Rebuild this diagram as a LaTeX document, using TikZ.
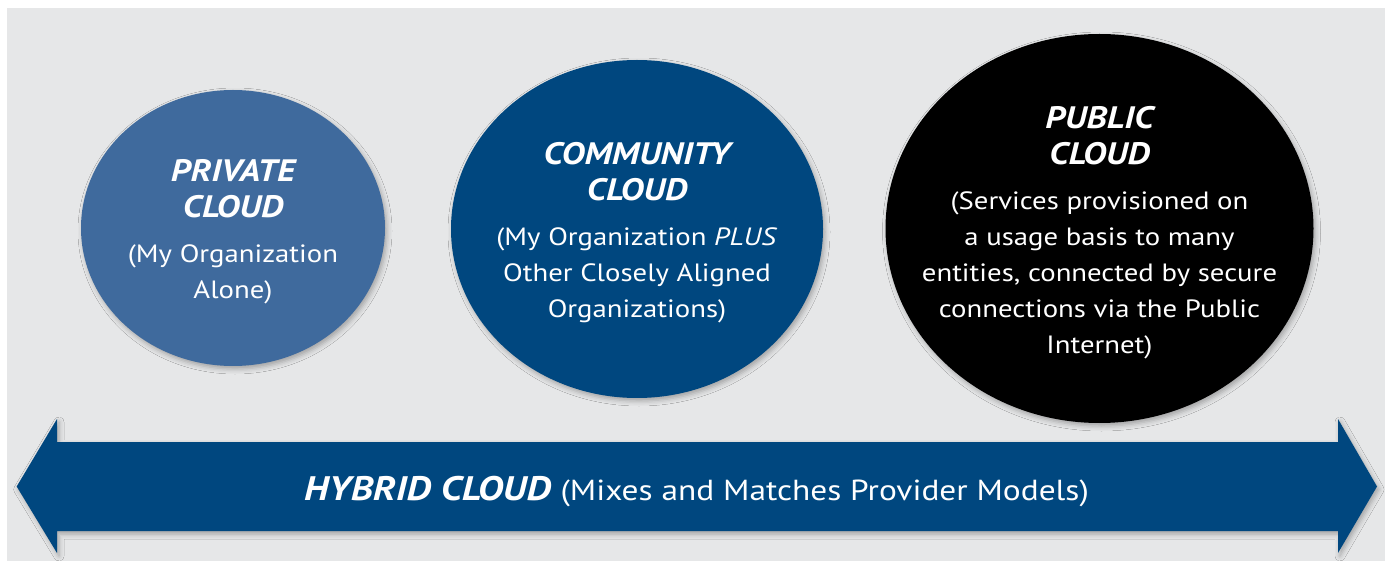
\documentclass[tikz,border=0pt]{standalone}
\usepackage{fontspec}
\setmainfont{PT Sans}[FakeStretch=1.15]
\usetikzlibrary{shapes.geometric,shadows.blur}

\definecolor{panelgray}{HTML}{E6E7E8}
\definecolor{privblue}{HTML}{3F6A9D}
\definecolor{navyblue}{HTML}{00477F}

\newcommand{\cloudtitle}{\fontsize{31}{35}\selectfont\bfseries\itshape}
\newcommand{\cloudbody}{\fontsize{25}{36}\selectfont}

\tikzset{
  softshadow/.style={blur shadow={shadow xshift=2pt, shadow yshift=-3pt,
      shadow blur radius=5pt, shadow opacity=30}},
  cloudbox/.style={ellipse, inner sep=0pt, softshadow},
  cloudtext/.style={inner sep=0pt, text=white, align=center, font=\cloudbody},
}

\begin{document}
\begin{tikzpicture}[x=1pt, y=-1pt]
  \useasboundingbox (0,0) rectangle (1385,561);
  % panel
  \fill[panelgray] (7,8) rectangle (1385,561);

  % deployment models
  \node[cloudbox, fill=privblue, minimum width=304pt, minimum height=276pt]
    (private) at (233,228) {};
  \node[cloudtext] (privatetext) at ([yshift=-4pt]private.center)
    {\cloudtitle PRIVATE\\ \cloudtitle CLOUD\\[9pt]
     (My Organization\\ Alone)};

  \node[cloudbox, fill=navyblue, minimum width=372pt, minimum height=338pt]
    (community) at (637,229) {};
  \node[cloudtext] (communitytext) at ([yshift=-4pt]community.center)
    {\cloudtitle COMMUNITY\\ \cloudtitle CLOUD\\[9pt]
     (My Organization \textit{PLUS}\\ Other Closely Aligned\\ Organizations)};

  \node[cloudbox, fill=black, minimum width=428pt, minimum height=389pt]
    (public) at (1099.5,228.5) {};
  \node[cloudtext] (publictext) at ([yshift=-4pt]public.center)
    {\cloudtitle PUBLIC\\ \cloudtitle CLOUD\\[9pt]
     (Services provisioned on\\ a usage basis to many\\
      entities, connected by secure\\ connections via the Public\\ Internet)};

  % hybrid double arrow
  \coordinate (ltip) at (16.7,486.5);
  \coordinate (rtip) at (1377,486.5);
  \fill[navyblue, softshadow]
    (ltip) -- (57,419) -- (57,442) -- (1338,442) -- (1338,419) -- (rtip)
    -- (1338,553) -- (1338,531) -- (57,531) -- (57,553) -- cycle;
  \node[text=white, inner sep=0pt, anchor=base] (hybrid) at (696.5,500)
    {\fontsize{34}{40}\selectfont\bfseries\itshape HYBRID CLOUD
     \fontsize{29}{40}\selectfont\mdseries\upshape(Mixes and Matches Provider Models)};
\end{tikzpicture}
\end{document}
